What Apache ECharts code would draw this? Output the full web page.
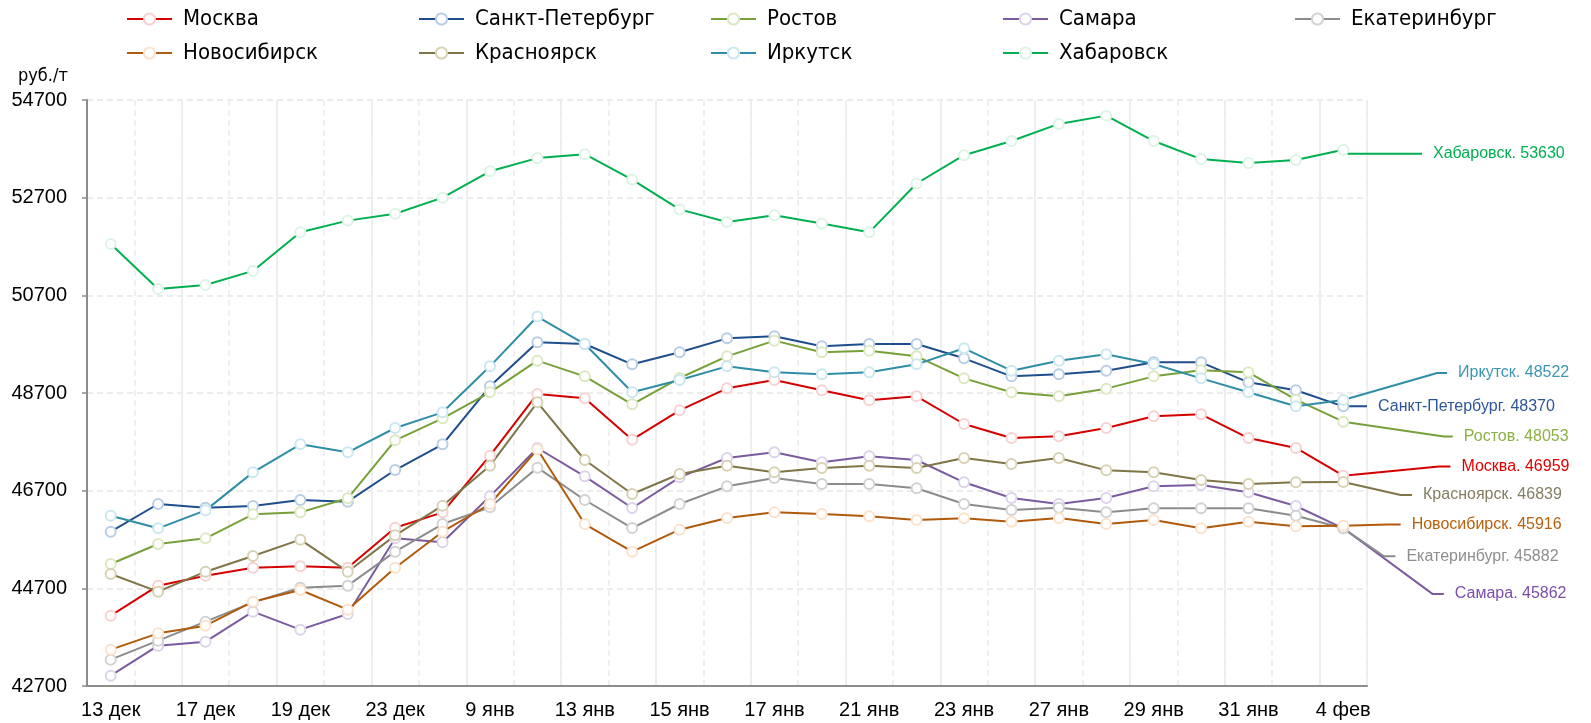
<!DOCTYPE html>
<html>
<head>
<meta charset="utf-8">
<script src="https://cdn.jsdelivr.net/npm/echarts@6/dist/echarts.min.js"></script>
<style>
  html, body { margin: 0; padding: 0; background: #fff; }
  #chart { width: 1591px; height: 723px; }
</style>
</head>
<body>
<div id="chart"></div>
<script>
// dates (every other one is labelled on the axis)
const categories = ['13 дек','16 дек','17 дек','18 дек','19 дек','20 дек','23 дек','24 дек','9 янв','10 янв',
  '13 янв','14 янв','15 янв','16 янв','17 янв','20 янв','21 янв','22 янв','23 янв','24 янв',
  '27 янв','28 янв','29 янв','30 янв','31 янв','3 фев','4 фев'];

const cities = ['Москва','Санкт-Петербург','Ростов','Самара','Екатеринбург','Новосибирск','Красноярск','Иркутск','Хабаровск'];

const moskva = [44140,44755,44959,45123,45150,45123,45942,46256,47417,48680,48591,47744,48345,48796,48966,48755,48550,48632,48065,47778,47813,47983,48222,48263,47778,47574,47007];
const spb = [45860,46427,46352,46386,46509,46475,47123,47649,48837,49738,49703,49287,49533,49819,49860,49656,49703,49703,49410,49041,49082,49157,49328,49328,48918,48755,48427];
const rostov = [45198,45608,45724,46215,46256,46543,47731,48181,48714,49362,49041,48468,49007,49451,49772,49533,49567,49451,49000,48714,48632,48789,49041,49164,49123,48563,48113];
const samara = [42912,43526,43608,44222,43854,44174,45724,45642,46584,47574,46993,46345,46973,47369,47485,47280,47403,47328,46871,46550,46427,46550,46789,46816,46666,46386,45929];
const ekb = [43239,43628,44017,44413,44714,44755,45451,46017,46359,47171,46509,45935,46427,46789,46959,46837,46837,46748,46427,46304,46352,46256,46338,46338,46338,46188,45929];
const novosib = [43444,43778,43935,44427,44666,44263,45123,45860,46427,47547,46017,45451,45901,46140,46256,46222,46174,46099,46133,46065,46140,46017,46099,45929,46065,45970,45983];
const krasnoyarsk = [44993,44632,45041,45362,45697,45041,45785,46393,47212,48509,47328,46632,47041,47212,47075,47164,47212,47164,47369,47246,47369,47116,47075,46918,46837,46871,46877];
const irkutsk = [46188,45929,46297,47075,47649,47485,47983,48304,49246,50266,49703,48714,48966,49246,49123,49082,49123,49287,49615,49157,49362,49492,49294,49000,48714,48427,48557];
const khabarovsk = [51750,50830,50910,51200,51990,52230,52370,52700,53240,53510,53590,53070,52460,52200,52340,52170,51990,52990,53570,53860,54210,54380,53860,53490,53410,53470,53680];

// values printed in the right-hand labels
const lastValues = [46959,48370,48053,45862,45882,45916,46839,48522,53630];
// level (руб./т) where each right-hand label sits
const labelLevels = [47193,48427,47807,44586,45357,46006,46612,49109,53600];

const yTicks = { min: 42700, max: 54700, step: 2000 };

const seriesData = [moskva, spb, rostov, samara, ekb, novosib, krasnoyarsk, irkutsk, khabarovsk];

const lineColors = ['#D40000','#1F4E8C','#77A03A','#7A5C9E','#8C8C8C','#B05A0C','#7E7548','#2F8EA6','#00B050'];
const fillColors = ['#F6D2D2','#B9CDE5','#DCE8C2','#DDD3EA','#D2D2D2','#FBE2CC','#D8D2B4','#CBE7EF','#DDF3E5'];
const labelColors = ['#E00000','#2E5597','#8DB045','#7B4FA9','#8E8E8E','#B8620F','#847E60','#3C96B0','#00B050'];
// leader line bend / end, in category steps
const leaderSteps = [[28.02,28.26],[26.2,26.5],[28.12,28.31],[27.88,28.12],[26.86,27.10],[26.94,27.21],[27.21,27.45],[27.98,28.19],[26.1,27.66]];

const chartDom = document.getElementById('chart');
const chart = echarts.init(chartDom);

const plot = { left: 87, right: 224, top: 100, bottom: 37 };
const plotWidth = chart.getWidth() - plot.left - plot.right;
// leader grid runs to the right edge, with the same step per category
const leaderMax = -0.5 + categories.length * (chart.getWidth() - plot.left) / plotWidth;

const series = [];
cities.forEach((name, i) => {
  series.push({
    name: name,
    type: 'line',
    data: seriesData[i],
    symbol: 'emptyCircle',
    symbolSize: 10,
    z: 3,
    lineStyle: { color: lineColors[i], width: 2 },
    itemStyle: { color: fillColors[i], borderColor: lineColors[i], borderWidth: 2 },
    emphasis: { disabled: true }
  });
});
cities.forEach((name, i) => {
  const last = seriesData[i][seriesData[i].length - 1];
  series.push({
    name: name + '_label',
    type: 'line',
    xAxisIndex: 2,
    yAxisIndex: 1,
    silent: true,
    symbol: 'none',
    z: 2,
    lineStyle: { color: lineColors[i], width: 2 },
    endLabel: {
      show: true,
      distance: 11,
      color: labelColors[i],
      fontSize: 16,
      formatter: name + '. ' + lastValues[i]
    },
    data: [
      [seriesData[i].length - 1, last],
      [leaderSteps[i][0], labelLevels[i]],
      [leaderSteps[i][1], labelLevels[i]]
    ]
  });
});

const option = {
  animation: false,
  textStyle: { fontFamily: 'Liberation Sans, Arial, sans-serif' },
  legend: {
    data: cities,
    left: 121,
    top: 2,
    width: 1470,
    itemWidth: 45,
    itemHeight: 14,
    itemGap: 10,
    textStyle: {
      fontFamily: 'Liberation Sans Narrow, DejaVu Sans Condensed, sans-serif',
      fontSize: 22,
      color: '#000',
      width: 225,
      lineHeight: 24,
      padding: [0, 0, 0, 6]
    }
  },
  graphic: [{
    type: 'text',
    left: 18,
    top: 67,
    style: {
      text: 'руб./т',
      fontFamily: 'Liberation Sans Narrow, DejaVu Sans Condensed, sans-serif',
      fontSize: 18,
      fill: '#000'
    }
  }],
  grid: [
    { left: plot.left, right: plot.right, top: plot.top, bottom: plot.bottom },
    { left: plot.left, right: 0, top: plot.top, bottom: plot.bottom }
  ],
  xAxis: [{
    type: 'category',
    data: categories,
    boundaryGap: true,
    axisLine: { onZero: false, lineStyle: { color: '#8C8C8C', width: 2 } },
    axisTick: { show: false },
    axisLabel: { interval: 1, color: '#000', fontSize: 20, margin: 14 },
    splitLine: { show: true, interval: 1, lineStyle: { color: '#EBEBEB', width: 1.5 } }
  }, {
    // axis in category steps, only for the minor grid lines
    type: 'value',
    position: 'top',
    min: -0.5,
    max: categories.length - 0.5,
    interval: 1,
    axisLine: { show: false },
    axisTick: { show: false },
    axisLabel: { show: false },
    splitLine: { show: true, lineStyle: { color: '#EBEBEB', width: 1.5, type: [6, 4] } }
  }, {
    gridIndex: 1,
    type: 'value',
    show: false,
    min: -0.5,
    max: leaderMax
  }],
  yAxis: [{
    type: 'value',
    min: yTicks.min,
    max: yTicks.max,
    interval: yTicks.step,
    axisLine: { show: true, onZero: false, lineStyle: { color: '#8C8C8C', width: 2 } },
    axisTick: { show: true, length: 5, lineStyle: { color: '#8C8C8C', width: 1.5 } },
    axisLabel: { color: '#000', fontSize: 20, margin: 20, formatter: (v) => String(v) },
    splitLine: { lineStyle: { color: '#E6E6E6', width: 1.5, type: [6, 4] } }
  }, {
    gridIndex: 1,
    type: 'value',
    show: false,
    min: yTicks.min,
    max: yTicks.max
  }],
  series: series
};

chart.setOption(option);
</script>
</body>
</html>
